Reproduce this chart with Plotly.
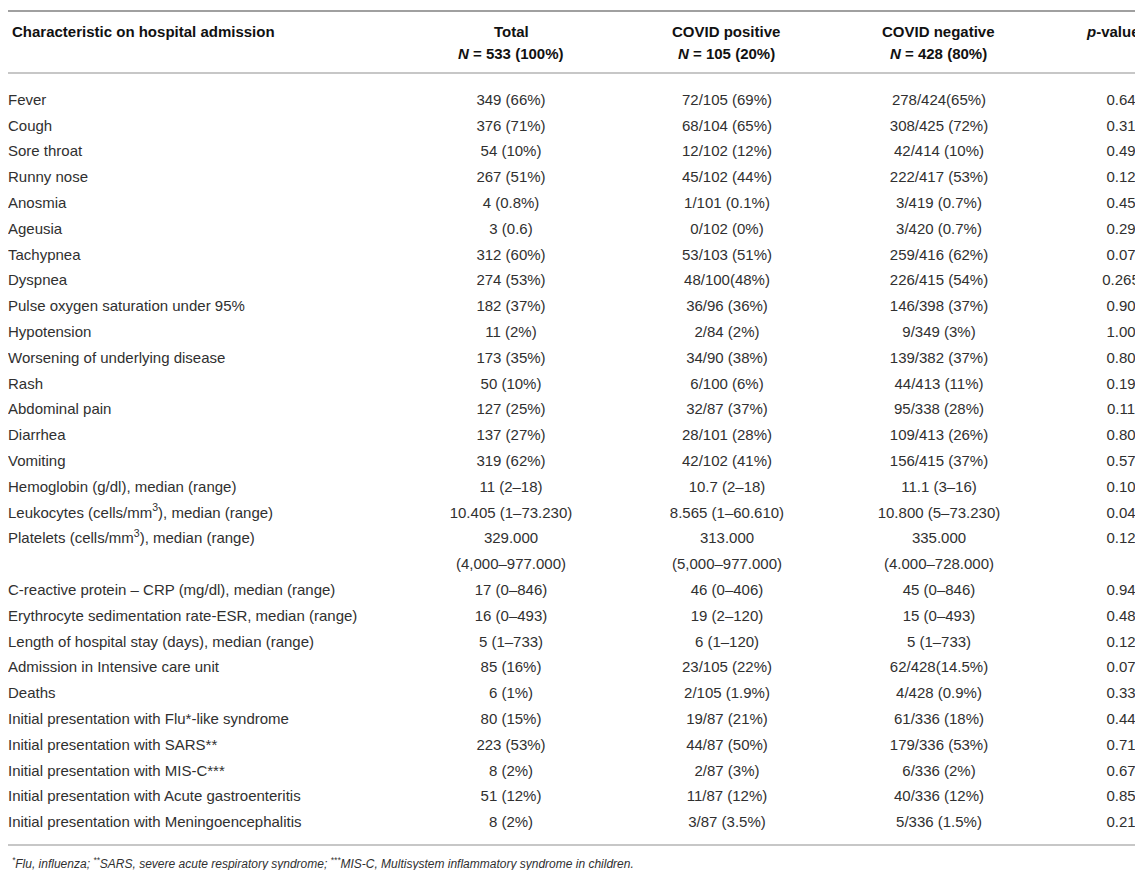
import plotly.graph_objects as go

# Table data
characteristics = [
    "Fever", "Cough", "Sore throat", "Runny nose", "Anosmia", "Ageusia",
    "Tachypnea", "Dyspnea", "Pulse oxygen saturation under 95%", "Hypotension",
    "Worsening of underlying disease", "Rash", "Abdominal pain", "Diarrhea",
    "Vomiting", "Hemoglobin (g/dl), median (range)",
    "Leukocytes (cells/mm<sup>3</sup>), median (range)",
    "Platelets (cells/mm<sup>3</sup>), median (range)",
    "C-reactive protein – CRP (mg/dl), median (range)",
    "Erythrocyte sedimentation rate-ESR, median (range)",
    "Length of hospital stay (days), median (range)",
    "Admission in Intensive care unit", "Deaths",
    "Initial presentation with Flu*-like syndrome",
    "Initial presentation with SARS**",
    "Initial presentation with MIS-C***",
    "Initial presentation with Acute gastroenteritis",
    "Initial presentation with Meningoencephalitis",
]
total = [
    "349 (66%)", "376 (71%)", "54 (10%)", "267 (51%)", "4 (0.8%)", "3 (0.6)",
    "312 (60%)", "274 (53%)", "182 (37%)", "11 (2%)", "173 (35%)", "50 (10%)",
    "127 (25%)", "137 (27%)", "319 (62%)", "11 (2–18)", "10.405 (1–73.230)",
    "329.000\n(4,000–977.000)", "17 (0–846)", "16 (0–493)", "5 (1–733)",
    "85 (16%)", "6 (1%)", "80 (15%)", "223 (53%)", "8 (2%)", "51 (12%)", "8 (2%)",
]
covid_positive = [
    "72/105 (69%)", "68/104 (65%)", "12/102 (12%)", "45/102 (44%)", "1/101 (0.1%)",
    "0/102 (0%)", "53/103 (51%)", "48/100(48%)", "36/96 (36%)", "2/84 (2%)",
    "34/90 (38%)", "6/100 (6%)", "32/87 (37%)", "28/101 (28%)", "42/102 (41%)",
    "10.7 (2–18)", "8.565 (1–60.610)", "313.000\n(5,000–977.000)", "46 (0–406)",
    "19 (2–120)", "6 (1–120)", "23/105 (22%)", "2/105 (1.9%)", "19/87 (21%)",
    "44/87 (50%)", "2/87 (3%)", "11/87 (12%)", "3/87 (3.5%)",
]
covid_negative = [
    "278/424(65%)", "308/425 (72%)", "42/414 (10%)", "222/417 (53%)", "3/419 (0.7%)",
    "3/420 (0.7%)", "259/416 (62%)", "226/415 (54%)", "146/398 (37%)", "9/349 (3%)",
    "139/382 (37%)", "44/413 (11%)", "95/338 (28%)", "109/413 (26%)", "156/415 (37%)",
    "11.1 (3–16)", "10.800 (5–73.230)", "335.000\n(4.000–728.000)", "45 (0–846)",
    "15 (0–493)", "5 (1–733)", "62/428(14.5%)", "4/428 (0.9%)", "61/336 (18%)",
    "179/336 (53%)", "6/336 (2%)", "40/336 (12%)", "5/336 (1.5%)",
]
p_values = [
    "0.64", "0.31", "0.49", "0.12", "0.45", "0.29", "0.07", "0.265", "0.90", "1.00",
    "0.80", "0.19", "0.11", "0.80", "0.57", "0.10", "0.04", "0.12", "0.94", "0.48",
    "0.12", "0.07", "0.33", "0.44", "0.71", "0.67", "0.85", "0.21",
]
headers = [
    "Characteristic on hospital admission",
    "Total<br><i>N</i> = 533 (100%)",
    "COVID positive<br><i>N</i> = 105 (20%)",
    "COVID negative<br><i>N</i> = 428 (80%)",
    "<i>p</i>-value",
]
footnote = ("<sup>*</sup>Flu, influenza; <sup>**</sup>SARS, severe acute respiratory syndrome; "
            "<sup>***</sup>MIS-C, Multisystem inflammatory syndrome in children.")

# Layout (pixels / row slots)
W, H = 1143, 870
ROW_H = 25.8
FIRST_PX = 93
FONT = "Liberation Sans, Arial, sans-serif"
col_x = [0, 503, 719, 931, 1113]
head_x = [2, 503, 718, 930, 1105]


def slot(px):
    return (px - FIRST_PX) / ROW_H


# one y slot per text line, platelets row takes two
row_y = []
y = 0
for t in total:
    row_y.append(y)
    y += t.count("\n") + 1

fig = go.Figure()
columns = [characteristics, total, covid_positive, covid_negative, p_values]
for ci, col in enumerate(columns):
    xs, ys, texts = [], [], []
    for ri, cell in enumerate(col):
        for li, part in enumerate(cell.split("\n")):
            xs.append(col_x[ci])
            ys.append(row_y[ri] + li)
            texts.append(part)
    fig.add_trace(go.Scatter(
        x=xs, y=ys, text=texts, mode="text",
        textposition="middle right" if ci == 0 else "middle center",
        textfont=dict(family=FONT, size=15, color="#303030"),
        hoverinfo="skip", showlegend=False,
    ))

# header
for ci, h in enumerate(headers):
    for li, part in enumerate(h.split("<br>")):
        fig.add_annotation(
            x=head_x[ci], y=slot(23 + 22 * li), text="<b>" + part + "</b>",
            xref="x", yref="y", showarrow=False,
            xanchor="left" if ci == 0 else "center", yanchor="middle",
            font=dict(family=FONT, size=15, color="#111111"),
        )

fig.add_annotation(
    x=2, y=slot(855), text="<i>" + footnote + "</i>", xref="x", yref="y",
    showarrow=False, xanchor="left", yanchor="middle",
    font=dict(family=FONT, size=12, color="#303030"),
)

# rules
for px, w, c in [(3, 2, "#a0a0a0"), (65, 1.5, "#b5b5b5"), (837, 1.5, "#b5b5b5")]:
    fig.add_shape(type="line", xref="x", yref="y", x0=0, x1=W, y0=slot(px), y1=slot(px),
                  line=dict(color=c, width=w))

fig.update_layout(
    width=W, height=H, margin=dict(l=0, r=0, t=0, b=0),
    paper_bgcolor="white", plot_bgcolor="white",
    xaxis=dict(range=[0, W], visible=False, fixedrange=True),
    yaxis=dict(range=[slot(H), slot(0)], visible=False, fixedrange=True),
)

fig.write_html("out.html")
